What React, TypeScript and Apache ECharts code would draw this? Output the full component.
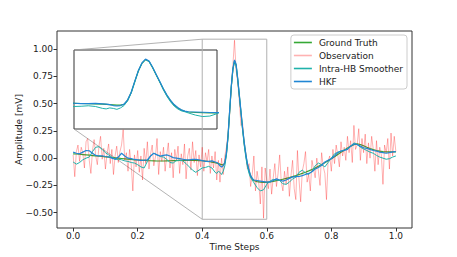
import React, { useEffect, useRef } from "react";
import * as echarts from "echarts";

const tSmooth = [
  0.0, 0.01, 0.02, 0.03, 0.04, 0.05, 0.06, 0.07, 0.08, 0.09,
  0.1, 0.11, 0.12, 0.13, 0.14, 0.15, 0.16, 0.17, 0.18, 0.19,
  0.2, 0.21, 0.22, 0.23, 0.24, 0.25, 0.26, 0.27, 0.28, 0.29,
  0.3, 0.31, 0.32, 0.33, 0.34, 0.35, 0.36, 0.37, 0.38, 0.39,
  0.4, 0.41, 0.42, 0.43, 0.44,
  0.445, 0.45, 0.455, 0.46, 0.465, 0.47, 0.475, 0.48, 0.485, 0.49, 0.495, 0.5,
  0.505, 0.51, 0.515, 0.52, 0.525, 0.53, 0.535, 0.54, 0.545, 0.55, 0.555, 0.56,
  0.57, 0.58, 0.59,
  0.6, 0.61, 0.62, 0.63, 0.64, 0.65, 0.66, 0.67, 0.68, 0.69,
  0.7, 0.71, 0.72, 0.73, 0.74, 0.75, 0.76, 0.77, 0.78, 0.79,
  0.8, 0.81, 0.82, 0.83, 0.84, 0.85, 0.86, 0.87, 0.88, 0.89,
  0.9, 0.91, 0.92, 0.93, 0.94, 0.95, 0.96, 0.97, 0.98, 0.99,
  1.0,
];

const groundTruth = [
  0.04, 0.038, 0.036, 0.033, 0.03, 0.027, 0.024, 0.021, 0.018, 0.015,
  0.012, 0.009, 0.006, 0.003, 0.0, -0.003, -0.006, -0.009, -0.012, -0.015,
  -0.017, -0.019, -0.021, -0.023, -0.024, -0.025, -0.026, -0.026, -0.026, -0.025,
  -0.024, -0.023, -0.022, -0.021, -0.02, -0.02, -0.02, -0.02, -0.021, -0.022,
  -0.024, -0.027, -0.031, -0.036, -0.042,
  -0.046, -0.05, -0.055, -0.06, -0.062, -0.045, 0.04, 0.2, 0.43, 0.65, 0.81, 0.89,
  0.85, 0.72, 0.57, 0.42, 0.27, 0.14, 0.03, -0.06, -0.12, -0.165, -0.19, -0.205,
  -0.215, -0.22, -0.222,
  -0.222, -0.218, -0.212, -0.206, -0.2, -0.193, -0.186, -0.178, -0.169, -0.16,
  -0.15, -0.14, -0.129, -0.117, -0.104, -0.09, -0.075, -0.059, -0.042, -0.024,
  -0.006, 0.013, 0.033, 0.053, 0.073, 0.092, 0.11, 0.124, 0.13, 0.125,
  0.113, 0.1, 0.088, 0.078, 0.07, 0.064, 0.06, 0.058, 0.057, 0.057,
  0.058,
];

const hkf = [
  0.055, 0.045, 0.04, 0.055, 0.07, 0.068, 0.045, 0.025, 0.02, 0.022,
  0.015, 0.012, 0.0, -0.01, 0.01, 0.045, 0.02, 0.0, -0.005, -0.012,
  -0.015, -0.02, -0.018, -0.015, 0.02, 0.045, 0.03, 0.02, 0.025, 0.03,
  0.02, 0.005, 0.0, -0.005, -0.01, -0.015, -0.015, -0.012, -0.01, -0.015,
  -0.022, -0.03, -0.03, -0.025, -0.035,
  -0.04, -0.05, -0.07, -0.08, -0.07, -0.04, 0.05, 0.21, 0.44, 0.66, 0.82, 0.9,
  0.86, 0.73, 0.58, 0.43, 0.28, 0.15, 0.04, -0.05, -0.11, -0.16, -0.185, -0.2,
  -0.205, -0.21, -0.215,
  -0.22, -0.218, -0.205, -0.19, -0.2, -0.21, -0.2, -0.185, -0.172, -0.17,
  -0.168, -0.16, -0.15, -0.14, -0.125, -0.1, -0.085, -0.065, -0.035, -0.02,
  -0.005, 0.02, 0.05, 0.065, 0.07, 0.08, 0.11, 0.13, 0.125, 0.11,
  0.095, 0.09, 0.08, 0.07, 0.065, 0.055, 0.05, 0.045, 0.05, 0.058,
  0.06,
];

const smoother = [
  -0.035, -0.055, -0.04, -0.015, 0.0, 0.01, 0.06, 0.1, 0.105, 0.08,
  0.05, 0.03, 0.01, -0.01, -0.01, -0.015, -0.025, -0.03, -0.04, -0.045,
  -0.06, -0.08, -0.09, -0.03, 0.02, 0.045, 0.03, 0.015, 0.01, -0.01,
  -0.04, -0.045, -0.02, -0.02, -0.025, -0.05, -0.08, -0.11, -0.13, -0.11,
  -0.09, -0.085, -0.075, -0.09, -0.13,
  -0.14, -0.12, -0.13, -0.15, -0.12, -0.07, 0.03, 0.19, 0.42, 0.65, 0.81, 0.89,
  0.85, 0.72, 0.57, 0.42, 0.26, 0.12, 0.01, -0.08, -0.14, -0.18, -0.2, -0.225,
  -0.27, -0.3, -0.29,
  -0.24, -0.21, -0.195, -0.2, -0.205, -0.235, -0.24, -0.22, -0.19, -0.175,
  -0.13, -0.11, -0.135, -0.15, -0.12, -0.07, -0.045, -0.06, -0.08, -0.04,
  0.0, 0.04, 0.055, 0.065, 0.075, 0.085, 0.11, 0.14, 0.125, 0.1,
  0.085, 0.07, 0.055, 0.045, 0.025, 0.01, 0.0, -0.01, -0.005, 0.01,
  0.02,
];

// observation sampled every 0.005 time step, from 0.0 to 1.0
const obsStep = 0.005;
const observation = [
  0.03, -0.17, 0.06, 0.12, -0.03, 0.1, 0.05, -0.09, 0.15, 0.18, -0.02, -0.14, 0.07, 0.17, 0.02, -0.06, 0.11, 0.2, -0.01, 0.09,
  -0.1, 0.04, 0.13, -0.05, 0.08, -0.15, 0.02, 0.11, -0.04, 0.06, 0.12, 0.26, -0.02, 0.05, -0.12, 0.08, -0.06, -0.3, 0.03, -0.08,
  0.07, -0.13, 0.02, -0.2, 0.09, -0.05, 0.15, -0.1, 0.04, 0.12, -0.07, 0.01, 0.18, -0.15, 0.06, -0.03, 0.1, -0.12, 0.03, 0.14,
  -0.09, 0.05, -0.18, 0.08, -0.02, 0.11, -0.14, 0.04, -0.06, 0.13, -0.19, 0.02, 0.09, -0.11, 0.15, -0.04, 0.07, -0.16, 0.03, -0.08,
  0.1, -0.12, 0.05, -0.03, 0.08, -0.14, 0.02, -0.09, 0.06, -0.2, -0.02, -0.22, 0.0, -0.15, 0.02, 0.1, 0.22, 0.4, 0.64, 0.85,
  1.08, 0.8, 0.7, 0.52, 0.3, 0.32, 0.12, 0.05, -0.1, -0.05, -0.26, -0.15, 0.02, -0.3, -0.12, -0.22, -0.42, -0.08, -0.55, -0.09,
  -0.2, -0.28, -0.1, -0.33, -0.18, -0.05, -0.26, -0.14, 0.03, -0.22, -0.3, -0.12, -0.24, -0.08, -0.35, -0.16, -0.02, -0.28, -0.38, 0.07,
  -0.2, -0.4, -0.12, -0.05, 0.06, -0.22, -0.15, -0.3, -0.02, -0.1, -0.18, 0.0, -0.12, -0.25, 0.05, -0.08, -0.14, -0.38, -0.03, 0.02,
  -0.12, 0.08, -0.05, 0.12, 0.03, -0.08, 0.15, 0.02, 0.1, -0.02, 0.2, 0.05, 0.16, -0.04, 0.3, 0.08, 0.12, 0.27, -0.02, 0.18,
  0.05, 0.22, -0.05, 0.14, 0.0, 0.2, 0.08, -0.12, 0.16, -0.06, 0.1, 0.03, -0.24, 0.12, 0.05, 0.18, -0.1, 0.23, 0.02, 0.2,
  0.06,
];

const xTicks = [0.0, 0.2, 0.4, 0.6, 0.8, 1.0];
const yTicks = [-0.5, -0.25, 0.0, 0.25, 0.5, 0.75, 1.0];
const zoomX = [0.4, 0.6];
const zoomY = [-0.56, 1.09];

const names = ["Ground Truth", "Observation", "Intra-HB Smoother", "HKF"];
const colors = {
  gt: "#35a835",
  obs: "rgba(255,0,0,0.3)",
  sm: "#20b2aa",
  hkf: "#2186d4",
};

export default function App() {
  const ref = useRef<HTMLDivElement>(null);
  useEffect(() => {
    const chart = echarts.init(ref.current!, null, { renderer: "svg" });
    const pair = (ts: number[], vs: number[]) => ts.map((t, i) => [t, vs[i]]);
    const obsData = observation.map((v, i) => [Math.round(i * obsStep * 1000) / 1000, v]);
    const font = "DejaVu Sans";
    const fmt = (d: number) => (v: number) => v.toFixed(d).replace("-", "\u2212");
    const line = (name: string, data: number[][], color: string, width: number, idx: number, extra: any = {}) => ({
      type: "line",
      name,
      data,
      xAxisIndex: idx,
      yAxisIndex: idx,
      showSymbol: false,
      symbol: "none",
      color,
      lineStyle: { color, width },
      ...extra,
    });

    chart.setOption({
      animation: false,
      backgroundColor: "#fff",
      textStyle: { fontFamily: font },
      grid: [
        { left: 57, top: 31, width: 355, height: 197, show: true, borderColor: "#333", borderWidth: 1, backgroundColor: "transparent", outerBoundsMode: "none", containLabel: false },
        { left: 74, top: 50, width: 143, height: 79, show: true, borderColor: "#333", borderWidth: 1, backgroundColor: "#fff", outerBoundsMode: "none", containLabel: false },
      ],
      xAxis: [
        {
          type: "value", gridIndex: 0, min: -0.05, max: 1.05,
          axisLine: { show: false, onZero: false },
          axisTick: { show: true, customValues: xTicks, length: 3.5, lineStyle: { color: "#333" } },
          axisLabel: { customValues: xTicks, formatter: fmt(1), fontSize: 9, color: "#222", margin: 3, fontFamily: font },
          splitLine: { show: false },
          name: "Time Steps", nameLocation: "middle", nameGap: 14, nameMoveOverlap: false,
          nameTextStyle: { fontSize: 9, color: "#222", fontFamily: font, verticalAlign: "top" },
        },
        { type: "value", gridIndex: 1, min: zoomX[0], max: zoomX[1], show: false, splitLine: { show: false }, axisLine: { onZero: false } },
      ],
      yAxis: [
        {
          type: "value", gridIndex: 0, min: -0.64, max: 1.165,
          axisLine: { show: false, onZero: false },
          axisTick: { show: true, customValues: yTicks, length: 3.5, lineStyle: { color: "#333" } },
          axisLabel: { customValues: yTicks, formatter: fmt(2), fontSize: 9, color: "#222", margin: 4, fontFamily: font },
          splitLine: { show: false },
          name: "Amplitude [mV]", nameLocation: "middle", nameGap: 34, nameRotate: 90, nameMoveOverlap: false,
          nameTextStyle: { fontSize: 9, color: "#222", fontFamily: font, verticalAlign: "bottom" },
        },
        { type: "value", gridIndex: 1, min: zoomY[0], max: zoomY[1], show: false, splitLine: { show: false }, axisLine: { onZero: false } },
      ],
      legend: {
        data: names,
        orient: "vertical",
        right: 50,
        top: 35,
        padding: [3, 4, 3, 3],
        itemWidth: 18,
        itemHeight: 1.6,
        itemGap: 4,
        icon: "rect",
        borderColor: "#ccc",
        borderWidth: 1,
        borderRadius: 3,
        backgroundColor: "rgba(255,255,255,0.8)",
        textStyle: { fontSize: 9, color: "#222", fontFamily: font, padding: [0, 0, 0, 2] },
      },
      series: [
        line(names[0], pair(tSmooth, groundTruth), colors.gt, 1.2, 0, {
          markArea: {
            silent: true,
            itemStyle: { color: "rgba(0,0,0,0)", borderColor: "#b0b0b0", borderWidth: 1 },
            data: [[{ coord: [zoomX[0], zoomY[0]] }, { coord: [zoomX[1], zoomY[1]] }]],
          },
        }),
        line(names[1], obsData, colors.obs, 1, 0),
        line(names[2], pair(tSmooth, smoother), colors.sm, 1, 0),
        line(names[3], pair(tSmooth, hkf), colors.hkf, 1.2, 0),
        line(names[0], pair(tSmooth, groundTruth), colors.gt, 1.2, 1),
        line(names[2], pair(tSmooth, smoother), colors.sm, 1, 1),
        line(names[3], pair(tSmooth, hkf), colors.hkf, 1.2, 1),
      ],
    });

    const px = (i: number, v: number[]) => chart.convertToPixel({ xAxisIndex: i, yAxisIndex: i }, v) as number[];
    const a1 = px(1, [zoomX[0], zoomY[1]]);
    const b1 = px(0, [zoomX[0], zoomY[1]]);
    const a2 = px(1, [zoomX[0], zoomY[0]]);
    const b2 = px(0, [zoomX[0], zoomY[0]]);
    chart.setOption({
      graphic: [
        { type: "line", silent: true, z: 1, shape: { x1: a1[0], y1: a1[1], x2: b1[0], y2: b1[1] }, style: { stroke: "#a0a0a0", lineWidth: 0.8 } },
        { type: "line", silent: true, z: 1, shape: { x1: a2[0], y1: a2[1], x2: b2[0], y2: b2[1] }, style: { stroke: "#a0a0a0", lineWidth: 0.8 } },
      ],
    });

    return () => chart.dispose();
  }, []);
  return <div ref={ref} style={{ position: "fixed", left: 0, top: 0, width: 457, height: 257, background: "#fff" }} />;
}
